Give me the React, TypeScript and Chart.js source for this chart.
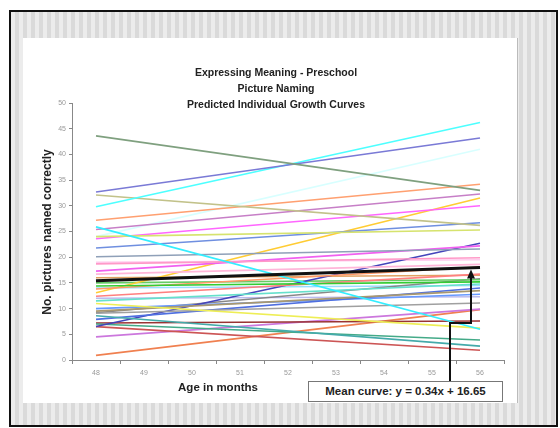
import React, { useEffect, useRef } from "react";
import { Chart, registerables } from "chart.js";
Chart.register(...registerables);

// ---- data ----
const ages = ["48", "49", "50", "51", "52", "53", "54", "55", "56"];
const titleLines = ["Expressing Meaning - Preschool", "Picture Naming", "Predicted Individual Growth Curves"];
const yAxisTitle = "No. pictures named correctly";
const xAxisTitle = "Age in months";
const meanEquation = "Mean curve: y = 0.34x + 16.65";
const meanStart = 15.4;
const meanEnd = 18.0;
const bracketLevel = 7.2;

// predicted score at age 48 and at age 56 for each child
const startValues = [43.6, 32.7, 29.8, 32.1, 27.2, 25.9, 25.4, 24.0, 23.6, 21.8, 20.1, 18.7, 17.3, 16.7, 14.4, 13.8, 13.1, 12.4, 11.5, 11.0, 9.5, 9.1, 8.6, 7.9, 6.5, 7.0, 6.5, 7.2, 4.5, 0.9, 24.0, 15.0, 10.0, 9.2, 12.0, 19.0, 14.0, 16.0];
const endValues = [33.0, 43.2, 46.2, 26.2, 34.2, 6.0, 32.3, 25.3, 30.0, 26.7, 21.6, 19.9, 22.2, 18.6, 15.2, 18.1, 31.5, 16.7, 14.8, 6.2, 13.5, 11.1, 2.7, 14.0, 22.7, 3.9, 1.9, 7.6, 9.9, 9.8, 41.0, 15.6, 12.8, 15.8, 12.3, 19.5, 14.5, 16.5];
const lineColors = ["#7fa07f", "#7a7ad6", "#4dffff", "#c2c28a", "#ffa070", "#33eeff", "#c77fc7", "#d6e36e", "#ff66ff", "#6f8fe0", "#8fa0b8", "#ff99c8", "#f060f0", "#ffb6d9", "#33cc33", "#ff9966", "#ffcc33", "#ff8080", "#66e0cc", "#eeee55", "#a89870", "#a0a0a0", "#44aaaa", "#4f6fe0", "#4444bb", "#44aa88", "#cc5555", "#993333", "#cc77dd", "#f08050", "#d8ffff", "#66cc66", "#6699ff", "#888888", "#bbbbee", "#ffccee", "#99ddff", "#e0a060"];

function ends(a: number, b: number) {
  const arr: (number | null)[] = ages.map(() => null);
  arr[0] = a;
  arr[ages.length - 1] = b;
  return arr;
}

const arrowPlugin = {
  id: "meanArrow",
  afterDatasetsDraw(chart: any) {
    const { ctx, scales } = chart;
    const x = scales.x, y = scales.y;
    const xEnd = x.getPixelForValue(ages.length - 1);
    const ax = xEnd - 9;
    const cx = xEnd - 30;
    const yTop = y.getPixelForValue(meanEnd) + 2;
    const yMid = y.getPixelForValue(bracketLevel);
    const boxTop = chart.height - 22;
    ctx.save();
    ctx.strokeStyle = "#111";
    ctx.lineWidth = 2;
    ctx.beginPath();
    ctx.moveTo(cx, boxTop);
    ctx.lineTo(cx, yMid);
    ctx.lineTo(ax, yMid);
    ctx.lineTo(ax, yTop + 8);
    ctx.stroke();
    ctx.beginPath();
    ctx.moveTo(ax, yTop);
    ctx.lineTo(ax - 4, yTop + 9);
    ctx.lineTo(ax + 4, yTop + 9);
    ctx.closePath();
    ctx.fillStyle = "#111";
    ctx.fill();
    ctx.restore();
  },
};

export default function App() {
  const ref = useRef<HTMLCanvasElement>(null);
  useEffect(() => {
    document.body.style.margin = "0";
    const datasets: any[] = [
      {
        data: ends(meanStart, meanEnd),
        borderColor: "#111",
        borderWidth: 3,
        pointRadius: 0,
        spanGaps: true,
      },
    ];
    startValues.forEach((s, i) => {
      datasets.push({
        data: ends(s, endValues[i]),
        borderColor: lineColors[i],
        borderWidth: 1.6,
        pointRadius: 0,
        spanGaps: true,
      });
    });
    const chart = new Chart(ref.current!, {
      type: "line",
      data: { labels: ages, datasets },
      options: {
        responsive: false,
        animation: false,
        devicePixelRatio: 1,
        layout: { padding: { top: 65, right: 13, left: 0, bottom: 0 } },
        plugins: { legend: { display: false }, tooltip: { enabled: false }, title: { display: false } },
        scales: {
          x: {
            type: "category",
            offset: true,
            grid: { display: true, drawOnChartArea: false, offset: true, tickLength: 4, color: "#888" },
            border: { color: "#888", width: 1 },
            ticks: { color: "#999", font: { size: 7, family: "Liberation Sans" }, padding: 5, maxRotation: 0 },
            afterFit: (s: any) => { s.height = 43; },
          },
          y: {
            min: 0,
            max: 50,
            ticks: { stepSize: 5, color: "#999", font: { size: 7, family: "Liberation Sans" }, padding: 3 },
            grid: { display: true, drawOnChartArea: false, tickLength: 3, color: "#888" },
            border: { color: "#888", width: 1 },
            afterFit: (s: any) => { s.width = 49; },
          },
        },
      },
      plugins: [arrowPlugin],
    });
    return () => chart.destroy();
  }, []);

  const font = "'Liberation Sans', Arial, sans-serif";
  return (
    <div style={{ position: "absolute", left: 0, top: 0, width: 560, height: 428, background: "#fff", overflow: "hidden", fontFamily: font }}>
      <div style={{ position: "absolute", left: 9, top: 10, width: 545, height: 413, border: "2px solid #111", background: "repeating-linear-gradient(90deg, #ececec 0px, #ececec 4px, #dadada 4px, #dadada 8px)" }} />
      <div style={{ position: "absolute", left: 23, top: 38, width: 494, height: 365, background: "#fff", borderRight: "1px solid #bbb" }}>
        <canvas ref={ref} width={494} height={365} style={{ position: "absolute", left: 0, top: 0 }} />
      </div>
      {titleLines.map((t, i) => (
        <div key={i} style={{ position: "absolute", left: 126, width: 300, top: 65 + i * 16, textAlign: "center", fontWeight: "bold", fontSize: 10.5, lineHeight: "14px", color: "#222" }}>{t}</div>
      ))}
      <div style={{ position: "absolute", left: 47 - 100, top: 232 - 8, width: 200, height: 16, textAlign: "center", fontWeight: "bold", fontSize: 12, lineHeight: "16px", color: "#222", transform: "rotate(-90deg)" }}>{yAxisTitle}</div>
      <div style={{ position: "absolute", left: 118, width: 200, top: 379, textAlign: "center", fontWeight: "bold", fontSize: 11.5, lineHeight: "16px", color: "#222" }}>{xAxisTitle}</div>
      <div style={{ position: "absolute", left: 308, top: 381, width: 193, height: 19, border: "1px solid #777", background: "#fff", textAlign: "center", fontWeight: "bold", fontSize: 11.5, lineHeight: "19px", color: "#222" }}>{meanEquation}</div>
    </div>
  );
}
